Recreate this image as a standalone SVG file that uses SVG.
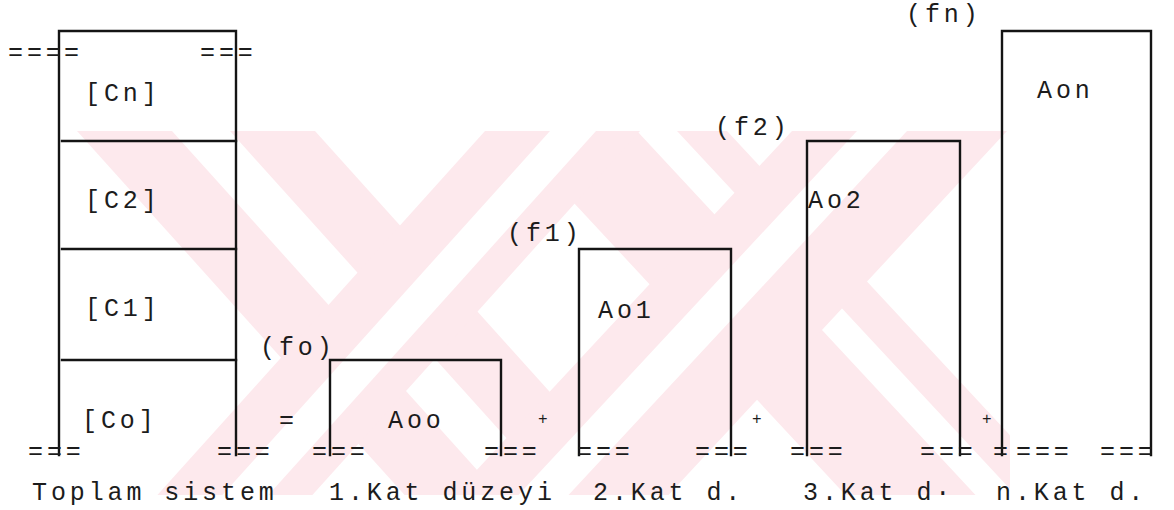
<svg xmlns="http://www.w3.org/2000/svg" width="1174" height="510" viewBox="0 0 1174 510">
  <style>
    .bg { fill: #ffffff; }
    .wm { fill: #fde9ed; }
    .wm-gap { fill: #ffffff; }
    .ln { fill: none; stroke: #141414; stroke-width: 2.4; stroke-linecap: square; }
    .tx { font-family: "Liberation Mono", "DejaVu Sans Mono", monospace; font-size: 25px; letter-spacing: 3.9px; fill: #1c1c1c; }
    .pl { font-family: "Liberation Mono", "DejaVu Sans Mono", monospace; font-size: 16px; fill: #1c1c1c; }
  </style>
  <defs>
    <clipPath id="emblem-area">
      <rect x="60" y="131" width="950" height="364"/>
    </clipPath>
  </defs>
  <rect class="bg" x="0" y="0" width="1174" height="510"/>

  <!-- faint background emblem: two interlaced crosses of striped bands -->
  <g id="watermark" clip-path="url(#emblem-area)">
    <polygon class="wm" points="77,131 315,131 642.6,495 404.6,495"/>
    <polygon class="wm-gap" points="172,131 230,131 557.6,495 499.6,495"/>
    <polygon class="wm" points="507,131 727,131 1065.5,495 845.5,495"/>
    <polygon class="wm-gap" points="637,131 677,131 1015.5,495 975.5,495"/>
    <polygon class="wm" points="485,131 640,131 312.4,495 157.4,495"/>
    <polygon class="wm-gap" points="550,131 596,131 268.4,495 222.4,495"/>
    <polygon class="wm" points="792,131 1007,131 668.5,495 453.5,495"/>
    <polygon class="wm-gap" points="857,131 907,131 568.5,495 518.5,495"/>
  </g>

  <!-- total system column -->
  <g id="column">
    <path class="ln" d="M59,455 V31 H236 V455"/>
    <path class="ln" d="M62,141 H236 M62,249 H236 M62,360 H236"/>
    <text class="tx" x="85" y="101">[Cn]</text>
    <text class="tx" x="85" y="208">[C2]</text>
    <text class="tx" x="85" y="316">[C1]</text>
    <text class="tx" x="82" y="428">[Co]</text>
  </g>

  <g id="level-0">
    <path class="ln" d="M330,455 V360 H501 V455"/>
    <text class="tx" x="260" y="355">(fo)</text>
    <text class="tx" x="388" y="428">Aoo</text>
  </g>

  <g id="level-1">
    <path class="ln" d="M579,455 V249 H731 V455"/>
    <text class="tx" x="507" y="241">(f1)</text>
    <text class="tx" x="598" y="318">Ao1</text>
  </g>

  <g id="level-2">
    <path class="ln" d="M807,455 V141 H960 V455"/>
    <text class="tx" x="715" y="135">(f2)</text>
    <text class="tx" x="808" y="208">Ao2</text>
  </g>

  <g id="level-n">
    <path class="ln" d="M1002,455 V31 H1151 V455"/>
    <text class="tx" x="906" y="22">(fn)</text>
    <text class="tx" x="1037" y="98">Aon</text>
  </g>

  <!-- operators between the parts -->
  <g id="operators">
    <text class="tx" x="279" y="428">=</text>
    <text class="pl" x="538" y="424">+</text>
    <text class="pl" x="752" y="424">+</text>
    <text class="pl" x="982" y="424">+</text>
  </g>

  <!-- ground marks -->
  <g id="ground">
    <text class="tx" x="8" y="60">===</text>
    <text class="tx" x="64" y="60">=</text>
    <text class="tx" x="200" y="60">===</text>
    <text class="tx" x="28" y="459">===</text>
    <text class="tx" x="217" y="459">===</text>
    <text class="tx" x="312" y="459">===</text>
    <text class="tx" x="484" y="459">===</text>
    <text class="tx" x="577" y="459">===</text>
    <text class="tx" x="695" y="459">===</text>
    <text class="tx" x="790" y="459">===</text>
    <text class="tx" x="920" y="459">===</text>
    <text class="tx" x="993" y="459">=</text>
    <text class="tx" x="1016" y="459">===</text>
    <text class="tx" x="1100" y="459">===</text>
  </g>

  <g id="labels">
    <text class="tx" x="32" y="500">Toplam sistem</text>
    <text class="tx" x="329" y="500">1.Kat düzeyi</text>
    <text class="tx" x="593" y="500">2.Kat d.</text>
    <text class="tx" x="803" y="500">3.Kat d·</text>
    <text class="tx" x="996" y="500">n.Kat d.</text>
  </g>
</svg>
